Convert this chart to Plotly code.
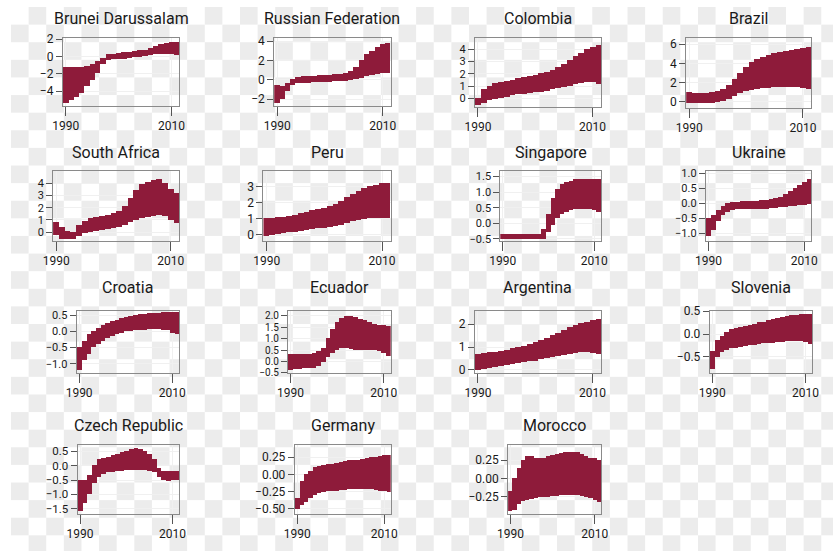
import plotly.graph_objects as go

years = list(range(1990, 2012))

countries = ["Brunei Darussalam", "Russian Federation", "Colombia", "Brazil",
             "South Africa", "Peru", "Singapore", "Ukraine",
             "Croatia", "Ecuador", "Argentina", "Slovenia",
             "Czech Republic", "Germany", "Morocco"]

brunei_lo = [-5.4, -5.1, -4.7, -4.2, -3.5, -2.8, -1.9, -0.9, -0.4, -0.35, -0.3, -0.3, -0.2, -0.1, -0.1, 0.0, 0.1, 0.2, 0.3, 0.3, 0.2, 0.1]
brunei_hi = [-1.3, -1.3, -1.3, -1.2, -1.1, -0.9, -0.6, -0.2, 0.2, 0.3, 0.4, 0.5, 0.5, 0.6, 0.7, 0.7, 0.9, 1.2, 1.4, 1.5, 1.6, 1.6]

russia_lo = [-2.4, -2.0, -1.2, -0.6, -0.4, -0.4, -0.35, -0.3, -0.3, -0.3, -0.25, -0.2, -0.2, -0.15, -0.1, 0.0, 0.2, 0.4, 0.5, 0.6, 0.7, 0.7]
russia_hi = [-0.6, -0.7, -0.4, 0.1, 0.3, 0.4, 0.4, 0.4, 0.5, 0.5, 0.5, 0.6, 0.6, 0.7, 0.9, 1.3, 2.0, 2.6, 3.0, 3.4, 3.7, 3.8]

colombia_lo = [-0.6, -0.4, -0.2, -0.1, 0.0, 0.1, 0.2, 0.3, 0.35, 0.4, 0.45, 0.5, 0.6, 0.7, 0.8, 0.9, 1.0, 1.1, 1.2, 1.3, 1.3, 1.1]
colombia_hi = [0.0, 0.7, 1.0, 1.2, 1.3, 1.4, 1.5, 1.6, 1.7, 1.8, 1.9, 2.0, 2.1, 2.3, 2.5, 2.8, 3.1, 3.4, 3.7, 4.0, 4.2, 4.3]

brazil_lo = [-0.1, -0.1, -0.1, -0.15, -0.1, 0.0, 0.1, 0.3, 0.6, 0.9, 1.1, 1.2, 1.3, 1.4, 1.45, 1.5, 1.55, 1.55, 1.5, 1.5, 1.4, 1.3]
brazil_hi = [1.0, 0.9, 0.9, 0.9, 1.0, 1.1, 1.3, 1.7, 2.3, 3.0, 3.6, 4.1, 4.4, 4.6, 4.8, 5.0, 5.1, 5.3, 5.4, 5.5, 5.6, 5.7]

safrica_lo = [-0.25, -0.6, -0.6, -0.6, -0.3, -0.1, 0.0, 0.1, 0.15, 0.2, 0.3, 0.4, 0.6, 0.8, 1.0, 1.1, 1.2, 1.3, 1.4, 1.3, 1.0, 0.7]
safrica_hi = [0.8, 0.4, 0.05, 0.0, 0.6, 0.9, 1.1, 1.2, 1.3, 1.4, 1.5, 1.7, 2.1, 2.8, 3.4, 3.9, 4.1, 4.2, 4.3, 4.0, 3.5, 3.2]

peru_lo = [-0.1, -0.05, 0.0, 0.05, 0.1, 0.15, 0.2, 0.25, 0.3, 0.35, 0.4, 0.45, 0.5, 0.6, 0.7, 0.8, 0.9, 0.95, 1.0, 1.0, 1.0, 1.0]
peru_hi = [1.0, 1.0, 1.05, 1.1, 1.15, 1.2, 1.3, 1.4, 1.5, 1.55, 1.65, 1.75, 1.9, 2.1, 2.3, 2.5, 2.7, 2.9, 3.0, 3.1, 3.2, 3.2]

singapore_lo = [-0.52, -0.52, -0.52, -0.52, -0.52, -0.52, -0.52, -0.52, -0.52, -0.5, -0.3, -0.05, 0.15, 0.3, 0.35, 0.4, 0.45, 0.45, 0.45, 0.45, 0.4, 0.35]
singapore_hi = [-0.35, -0.35, -0.35, -0.35, -0.35, -0.35, -0.35, -0.35, -0.35, -0.2, 0.3, 0.8, 1.1, 1.25, 1.3, 1.35, 1.4, 1.4, 1.4, 1.4, 1.4, 1.4]

ukraine_lo = [-1.1, -0.9, -0.6, -0.4, -0.3, -0.25, -0.22, -0.2, -0.2, -0.2, -0.2, -0.2, -0.2, -0.18, -0.16, -0.15, -0.13, -0.12, -0.1, -0.08, -0.06, -0.05]
ukraine_hi = [-0.5, -0.4, -0.25, -0.1, 0.0, 0.02, 0.04, 0.05, 0.06, 0.07, 0.08, 0.09, 0.1, 0.12, 0.15, 0.2, 0.3, 0.4, 0.5, 0.6, 0.7, 0.8]

croatia_lo = [-1.2, -0.9, -0.7, -0.5, -0.4, -0.3, -0.2, -0.15, -0.1, -0.05, 0.0, 0.0, 0.02, 0.03, 0.04, 0.05, 0.05, 0.05, 0.04, 0.02, -0.05, -0.1]
croatia_hi = [-0.5, -0.3, -0.1, 0.0, 0.1, 0.2, 0.25, 0.3, 0.35, 0.4, 0.45, 0.48, 0.5, 0.52, 0.54, 0.55, 0.56, 0.57, 0.58, 0.58, 0.58, 0.58]

ecuador_lo = [-0.37, -0.33, -0.32, -0.31, -0.3, -0.28, -0.2, -0.05, 0.2, 0.35, 0.5, 0.6, 0.6, 0.55, 0.5, 0.5, 0.5, 0.5, 0.5, 0.45, 0.35, 0.25]
ecuador_hi = [0.3, 0.3, 0.3, 0.32, 0.33, 0.35, 0.45, 0.6, 1.0, 1.4, 1.7, 1.9, 2.0, 2.0, 1.95, 1.85, 1.8, 1.7, 1.65, 1.6, 1.6, 1.55]

argentina_lo = [0.0, 0.03, 0.07, 0.1, 0.15, 0.2, 0.25, 0.28, 0.32, 0.36, 0.4, 0.45, 0.5, 0.55, 0.6, 0.65, 0.7, 0.72, 0.75, 0.75, 0.72, 0.7]
argentina_hi = [0.7, 0.72, 0.75, 0.78, 0.82, 0.88, 0.95, 1.0, 1.05, 1.1, 1.2, 1.3, 1.4, 1.5, 1.6, 1.75, 1.85, 1.95, 2.05, 2.1, 2.15, 2.2]

slovenia_lo = [-0.78, -0.5, -0.4, -0.35, -0.32, -0.3, -0.28, -0.27, -0.25, -0.24, -0.22, -0.21, -0.2, -0.19, -0.18, -0.17, -0.16, -0.15, -0.15, -0.16, -0.18, -0.22]
slovenia_hi = [-0.38, -0.13, -0.05, 0.05, 0.1, 0.12, 0.15, 0.18, 0.2, 0.22, 0.25, 0.27, 0.3, 0.32, 0.35, 0.37, 0.4, 0.42, 0.42, 0.43, 0.43, 0.43]

czech_lo = [-1.6, -1.3, -1.0, -0.6, -0.4, -0.3, -0.25, -0.22, -0.2, -0.2, -0.18, -0.18, -0.18, -0.18, -0.18, -0.2, -0.25, -0.4, -0.5, -0.55, -0.5, -0.5]
czech_hi = [-0.5, -0.5, -0.35, 0.0, 0.2, 0.25, 0.3, 0.35, 0.4, 0.45, 0.5, 0.55, 0.6, 0.55, 0.5, 0.4, 0.2, -0.1, -0.2, -0.2, -0.2, -0.2]

germany_lo = [-0.5, -0.45, -0.4, -0.35, -0.3, -0.28, -0.26, -0.25, -0.24, -0.24, -0.23, -0.23, -0.22, -0.22, -0.22, -0.22, -0.22, -0.22, -0.23, -0.24, -0.25, -0.26]
germany_hi = [-0.35, -0.1, 0.0, 0.05, 0.1, 0.12, 0.13, 0.14, 0.15, 0.16, 0.18, 0.19, 0.2, 0.2, 0.21, 0.22, 0.23, 0.24, 0.25, 0.26, 0.27, 0.28]

morocco_lo = [-0.44, -0.43, -0.35, -0.31, -0.29, -0.28, -0.27, -0.26, -0.25, -0.25, -0.24, -0.24, -0.23, -0.23, -0.23, -0.23, -0.23, -0.24, -0.25, -0.27, -0.3, -0.32]
morocco_hi = [-0.17, 0.0, 0.14, 0.25, 0.3, 0.3, 0.28, 0.27, 0.28, 0.3, 0.32, 0.33, 0.34, 0.35, 0.36, 0.36, 0.35, 0.33, 0.3, 0.28, 0.27, 0.25]

lows = [brunei_lo, russia_lo, colombia_lo, brazil_lo, safrica_lo, peru_lo, singapore_lo, ukraine_lo,
        croatia_lo, ecuador_lo, argentina_lo, slovenia_lo, czech_lo, germany_lo, morocco_lo]
highs = [brunei_hi, russia_hi, colombia_hi, brazil_hi, safrica_hi, peru_hi, singapore_hi, ukraine_hi,
         croatia_hi, ecuador_hi, argentina_hi, slovenia_hi, czech_hi, germany_hi, morocco_hi]

x_ticks = [1990, 2010]
y_ticks = [[-4, -2, 0, 2], [-2, 0, 2, 4], [0, 1, 2, 3, 4], [0, 2, 4, 6],
           [0, 1, 2, 3, 4], [0, 1, 2, 3], [-0.5, 0.0, 0.5, 1.0, 1.5], [-1.0, -0.5, 0.0, 0.5, 1.0],
           [-1.0, -0.5, 0.0, 0.5], [-0.5, 0.0, 0.5, 1.0, 1.5, 2.0], [0, 1, 2], [-0.5, 0.0, 0.5],
           [-1.5, -1.0, -0.5, 0.0, 0.5], [-0.5, -0.25, 0.0, 0.25], [-0.25, 0.0, 0.25]]
y_formats = ["d", "d", "d", "d", "d", "d", ".1f", ".1f", ".1f", ".1f", "d", ".1f", ".1f", ".2f", ".2f"]
y_ranges = [[-5.7, 2.1], [-2.7, 4.3], [-0.7, 4.9], [-0.6, 6.6],
            [-0.7, 4.96], [-0.4, 3.95], [-0.56, 1.66], [-1.26, 1.07],
            [-1.28, 0.62], [-0.5, 2.2], [-0.13, 2.56], [-0.85, 0.5],
            [-1.67, 0.7], [-0.57, 0.42], [-0.48, 0.45]]

# panel boxes in pixels: left, right, top, bottom
boxes = [(53, 172, 32, 101), (269, 388, 32, 101), (474, 603, 32, 102), (690, 818, 32, 103),
         (43, 172, 168, 239), (258, 388, 168, 239), (500, 603, 168, 239), (710, 818, 168, 239),
         (67, 172, 311, 374), (283, 388, 311, 374), (474, 603, 311, 374), (714, 819, 311, 374),
         (68, 172, 448, 518), (290, 388, 448, 518), (508, 603, 448, 518)]
title_y = [12, 12, 12, 12, 149, 149, 149, 149, 287, 287, 287, 287, 428, 428, 428]
ytick_size = [12, 12, 11, 12, 11, 12, 11, 11, 11, 10, 12, 12, 11.5, 12, 12]

W, H = 840, 556
BAR = "#8e1b3a"
FONT = "Roboto"

fig = go.Figure()
layout = dict(width=W, height=H, margin=dict(l=0, r=0, t=0, b=0),
              paper_bgcolor="white", plot_bgcolor="white", showlegend=False,
              bargap=0, font=dict(family=FONT, size=12, color="#1a1a1a"))
annotations = []
shapes = []

# checkerboard backdrop
SQ = 18
for r in range(0, H // SQ + 1):
    for c in range(0, W // SQ + 1):
        if (r + c) % 2 == 1:
            shapes.append(dict(type="rect", xref="paper", yref="paper", layer="below",
                               x0=c * SQ / W, x1=min((c + 1) * SQ, W) / W,
                               y0=max(1 - (r + 1) * SQ / H, 0), y1=1 - r * SQ / H,
                               line=dict(width=0), fillcolor="#ececec"))

for i, name in enumerate(countries):
    k = i + 1
    lo, hi = lows[i], highs[i]
    fig.add_trace(go.Bar(x=years, y=[h - l for h, l in zip(hi, lo)], base=lo, width=1.0,
                         marker=dict(color=BAR, line=dict(width=0)),
                         xaxis=f"x{k}", yaxis=f"y{k}", hoverinfo="skip"))
    l, r, t, b = boxes[i]
    axcommon = dict(showline=True, mirror=True, linecolor="#8a8a8a", linewidth=1,
                    ticks="outside", tickcolor="#555555", tickwidth=1,
                    showgrid=True, gridcolor="#f0f0f0", zeroline=False)
    layout[f"xaxis{k}"] = dict(domain=[l / W, r / W], range=[1989.45, 2011.5],
                               tickvals=x_ticks, ticktext=[str(v) for v in x_ticks],
                               anchor=f"y{k}", ticklen=9,
                               tickfont=dict(family=FONT, size=12, color="#1a1a1a"), **axcommon)
    layout[f"yaxis{k}"] = dict(domain=[1 - b / H, 1 - t / H], range=y_ranges[i],
                               tickvals=y_ticks[i], tickformat=y_formats[i],
                               anchor=f"x{k}", ticklen=6,
                               tickfont=dict(family=FONT, size=ytick_size[i], color="#1a1a1a"), **axcommon)
    annotations.append(dict(text=name, x=(l + r) / 2 / W, y=1 - title_y[i] / H,
                            xref="paper", yref="paper", xanchor="center", yanchor="middle",
                            showarrow=False, font=dict(family=FONT, size=16, color="#1a1a1a")))

layout["annotations"] = annotations
layout["shapes"] = shapes
fig.update_layout(**layout)
fig.write_html("out.html")
